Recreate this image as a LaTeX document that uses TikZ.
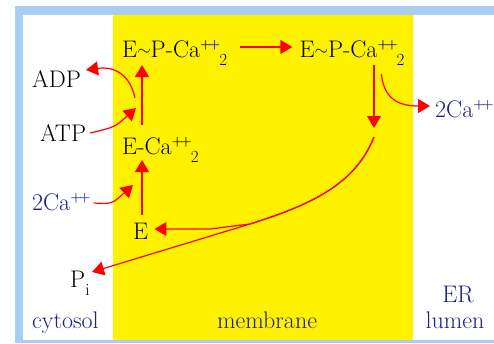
\documentclass[tikz,border=0pt]{standalone}
\usepackage{xcolor}
\usepackage{tikz}
\usetikzlibrary{arrows.meta, positioning}

\definecolor{framebl}{RGB}{168,206,244}
\definecolor{ionblue}{RGB}{30,30,140}

\newcommand{\pp}{\raisebox{9pt}{\fontsize{13}{13}\selectfont\bfseries+\kern-2.5pt+}}
\newcommand{\ctwo}{\raisebox{-8pt}{\fontsize{17}{17}\selectfont 2}}
\newcommand{\tld}{\raisebox{2pt}{\fontsize{18}{18}\selectfont$\sim$}}

\begin{document}
\begin{tikzpicture}[x=1pt, y=-1pt,
        every node/.style={font=\fontsize{24}{28}\selectfont, inner sep=0pt, anchor=base west},
        lbl/.style={text=black},
        ion/.style={text=ionblue},
        arr/.style={-{Triangle[length=12pt,width=14pt]}, red, line width=1.2pt}]
        \useasboundingbox (0,0) rectangle (494,343);
        % frame and membrane
        \fill[framebl] (15,6) rectangle (494,343);
        \fill[white] (23,15) rectangle (494,340);
        \fill[yellow] (113,15) rectangle (413,340);

        \node[lbl] (ecap1) at (122,57) {E\tld P-Ca\pp\kern-1pt\ctwo};
        \node[lbl, right=72pt of ecap1] (ecap2) {E\tld P-Ca\pp\kern-1pt\ctwo};
        \node[lbl] (eca) at (122,154) {E-Ca\pp\kern-1pt\ctwo};
        \node[lbl] (e) at (133,239) {E};
        \node[lbl] (adp) at (32,87) {ADP};
        \node[lbl] (atp) at (40,141) {ATP};
        \node[ion] (cain) at (32,210) {2Ca\pp};
        \node[lbl] (pi) at (70,287) {P\raisebox{-8pt}{\fontsize{17}{17}\selectfont i}};
        \node[ion] (caout) at (435,117) {2Ca\pp};
        \node[ion] (cyto) at (32,328) {cytosol};
        \node[ion, anchor=base] (memb) at (267,328) {membrane};
        \node[ion, anchor=base] (lumen) at (455,328) {lumen};
        \node[ion, above=8pt of lumen, xshift=3pt] (er) {ER};

        \coordinate (dephos) at (374,128);
        \coordinate (topr) at ([yshift=-8pt]ecap2.base west);
        \coordinate (split) at (250,224);

        \draw[arr] ([xshift=13pt,yshift=10pt]ecap1.base east) -- ([xshift=-7pt,yshift=10pt]ecap2.base west);
        \draw[arr] ([xshift=20pt,yshift=29pt]eca.base west) -- ([xshift=20pt,yshift=-8pt]ecap1.base west);
        \draw[arr] ([xshift=9pt,yshift=24pt]e.base west) -- ([xshift=20pt,yshift=-6pt]eca.base west);
        \draw[arr] (topr -| dephos) -- (dephos);
        \draw[arr] ([xshift=82pt,yshift=-17pt]ecap2.base west) .. controls (384,100) and (400,106) .. ([xshift=-5pt,yshift=11pt]caout.base west);
        \draw[arr] ([xshift=13pt,yshift=56pt]eca.base west) .. controls (130,75) and (115,66) .. ([xshift=5pt,yshift=17pt]adp.base east);
        \draw[arr] ([xshift=4pt,yshift=8pt]atp.base east) .. controls (115,127) .. ([xshift=14pt,yshift=46pt]eca.base west);
        \draw[arr] ([xshift=3pt,yshift=7pt]cain.base east) .. controls (112,204) .. ([yshift=54pt]e.base west);
        \draw[arr] ([yshift=-9pt]dephos) .. controls (355,185) and (310,205) .. (split) -- (210,229) -- ([xshift=6pt,yshift=10pt]e.base east);
        \draw[arr] ([yshift=-9pt]dephos) .. controls (355,185) and (310,205) .. (split) -- ([xshift=22pt,yshift=15pt]pi.base west);
\end{tikzpicture}
\end{document}
